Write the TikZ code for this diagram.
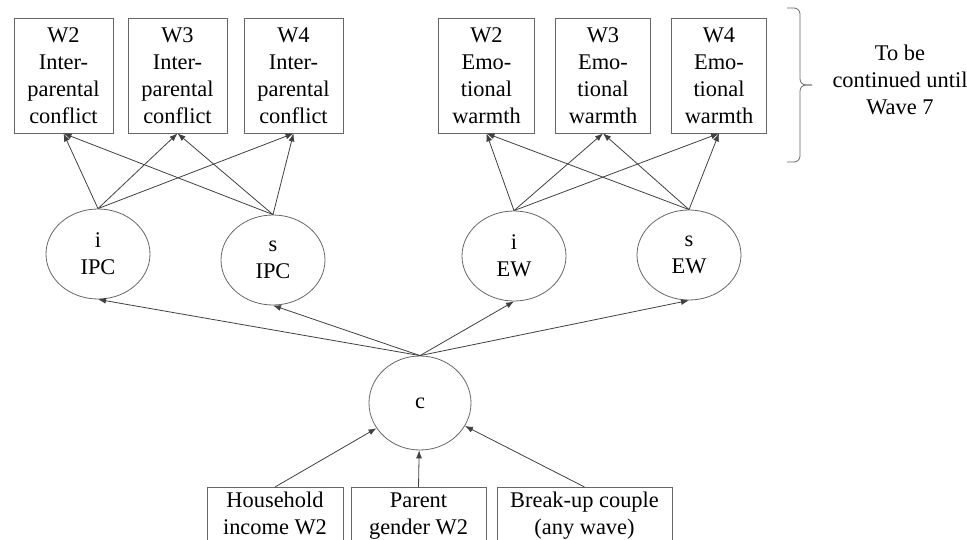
\documentclass[tikz,border=0pt]{standalone}
\usepackage{fontspec}
\setmainfont{Liberation Serif}
\usetikzlibrary{arrows.meta}
\usetikzlibrary{shapes}

\begin{document}
\begin{tikzpicture}
[x=1pt,y=-1pt,%
  font=\fontsize{22.4}{27}\selectfont,%
  lineDecorate/.style={-{Latex[length=8pt,width=6pt]},line width=0.8pt,draw=black!75},%
  boxDecorate/.style={shape=rectangle,draw=black!60,line width=0.8pt,align=center,inner xsep=13.5pt,minimum height=115pt},%
  latentDecorate/.style={shape=ellipse,draw=black!60,line width=0.8pt,align=center,inner sep=0pt,minimum width=104pt,minimum height=90pt},%
  baseDecorate/.style={shape=rectangle,draw=black!60,line width=0.8pt,align=center,anchor=north,inner ysep=5pt,text depth=40pt},%
  braceDecorate/.style={draw=black!60,line width=0.8pt,rounded corners=6pt}]
\useasboundingbox (0,0) rectangle (967,540);
\clip (0,0) rectangle (967,540);
%% repeated measures
\foreach \wave/\x in {2/63.5, 3/177.5, 4/293.5}
{
  \node[boxDecorate] (ipc\wave) at (\x,75.5) {W\wave\\Inter-\\parental\\conflict};
}
\foreach \wave/\x in {2/486.5, 3/603, 4/719}
{
  \node[boxDecorate] (ew\wave) at (\x,75.5) {W\wave\\Emo-\\tional\\warmth};
}
%% growth factors
\node[latentDecorate] (iIPC) at (98,254) {i\\IPC};
\node[latentDecorate] (sIPC) at (273,260) {s\\IPC};
\node[latentDecorate] (iEW) at (514,256) {i\\EW};
\node[latentDecorate] (sEW) at (689,255) {s\\EW};
\node[latentDecorate,minimum width=102pt,minimum height=94pt] (c) at (420,403) {c};
%% covariates
\node[baseDecorate,minimum width=136pt] (income) at (275,487) {Household\\income W2};
\node[baseDecorate,minimum width=135pt] (gender) at (418.5,487) {Parent\\gender W2};
\node[baseDecorate,minimum width=175pt] (breakup) at (584.5,487) {Break-up couple\\(any wave)};
%% loadings
\foreach \latent in {iIPC,sIPC}
  \foreach \wave in {2,3,4}
    \path (\latent.north) edge[lineDecorate] (ipc\wave.south);
\foreach \latent in {iEW,sEW}
  \foreach \wave in {2,3,4}
    \path (\latent.north) edge[lineDecorate] (ew\wave.south);
%% paths from c and into c
\foreach \latent in {iIPC,sIPC,iEW,sEW}
  \path (c.north) edge[lineDecorate] (\latent.south);
\foreach \cov in {income,gender,breakup}
  \path (\cov.north) edge[lineDecorate] (c);
%% brace and note
\coordinate (braceTop) at (787,8);
\coordinate (braceBottom) at (787,162);
\coordinate (braceTip) at (812,85);
\draw[braceDecorate] (braceTop) -- (800,8) -- (800,85) -- (braceTip);
\draw[braceDecorate] (braceBottom) -- (800,162) -- (800,85) -- (braceTip);
\node[align=center] (note) at (900,80) {To be\\continued until\\Wave 7};
\end{tikzpicture}
\end{document}
